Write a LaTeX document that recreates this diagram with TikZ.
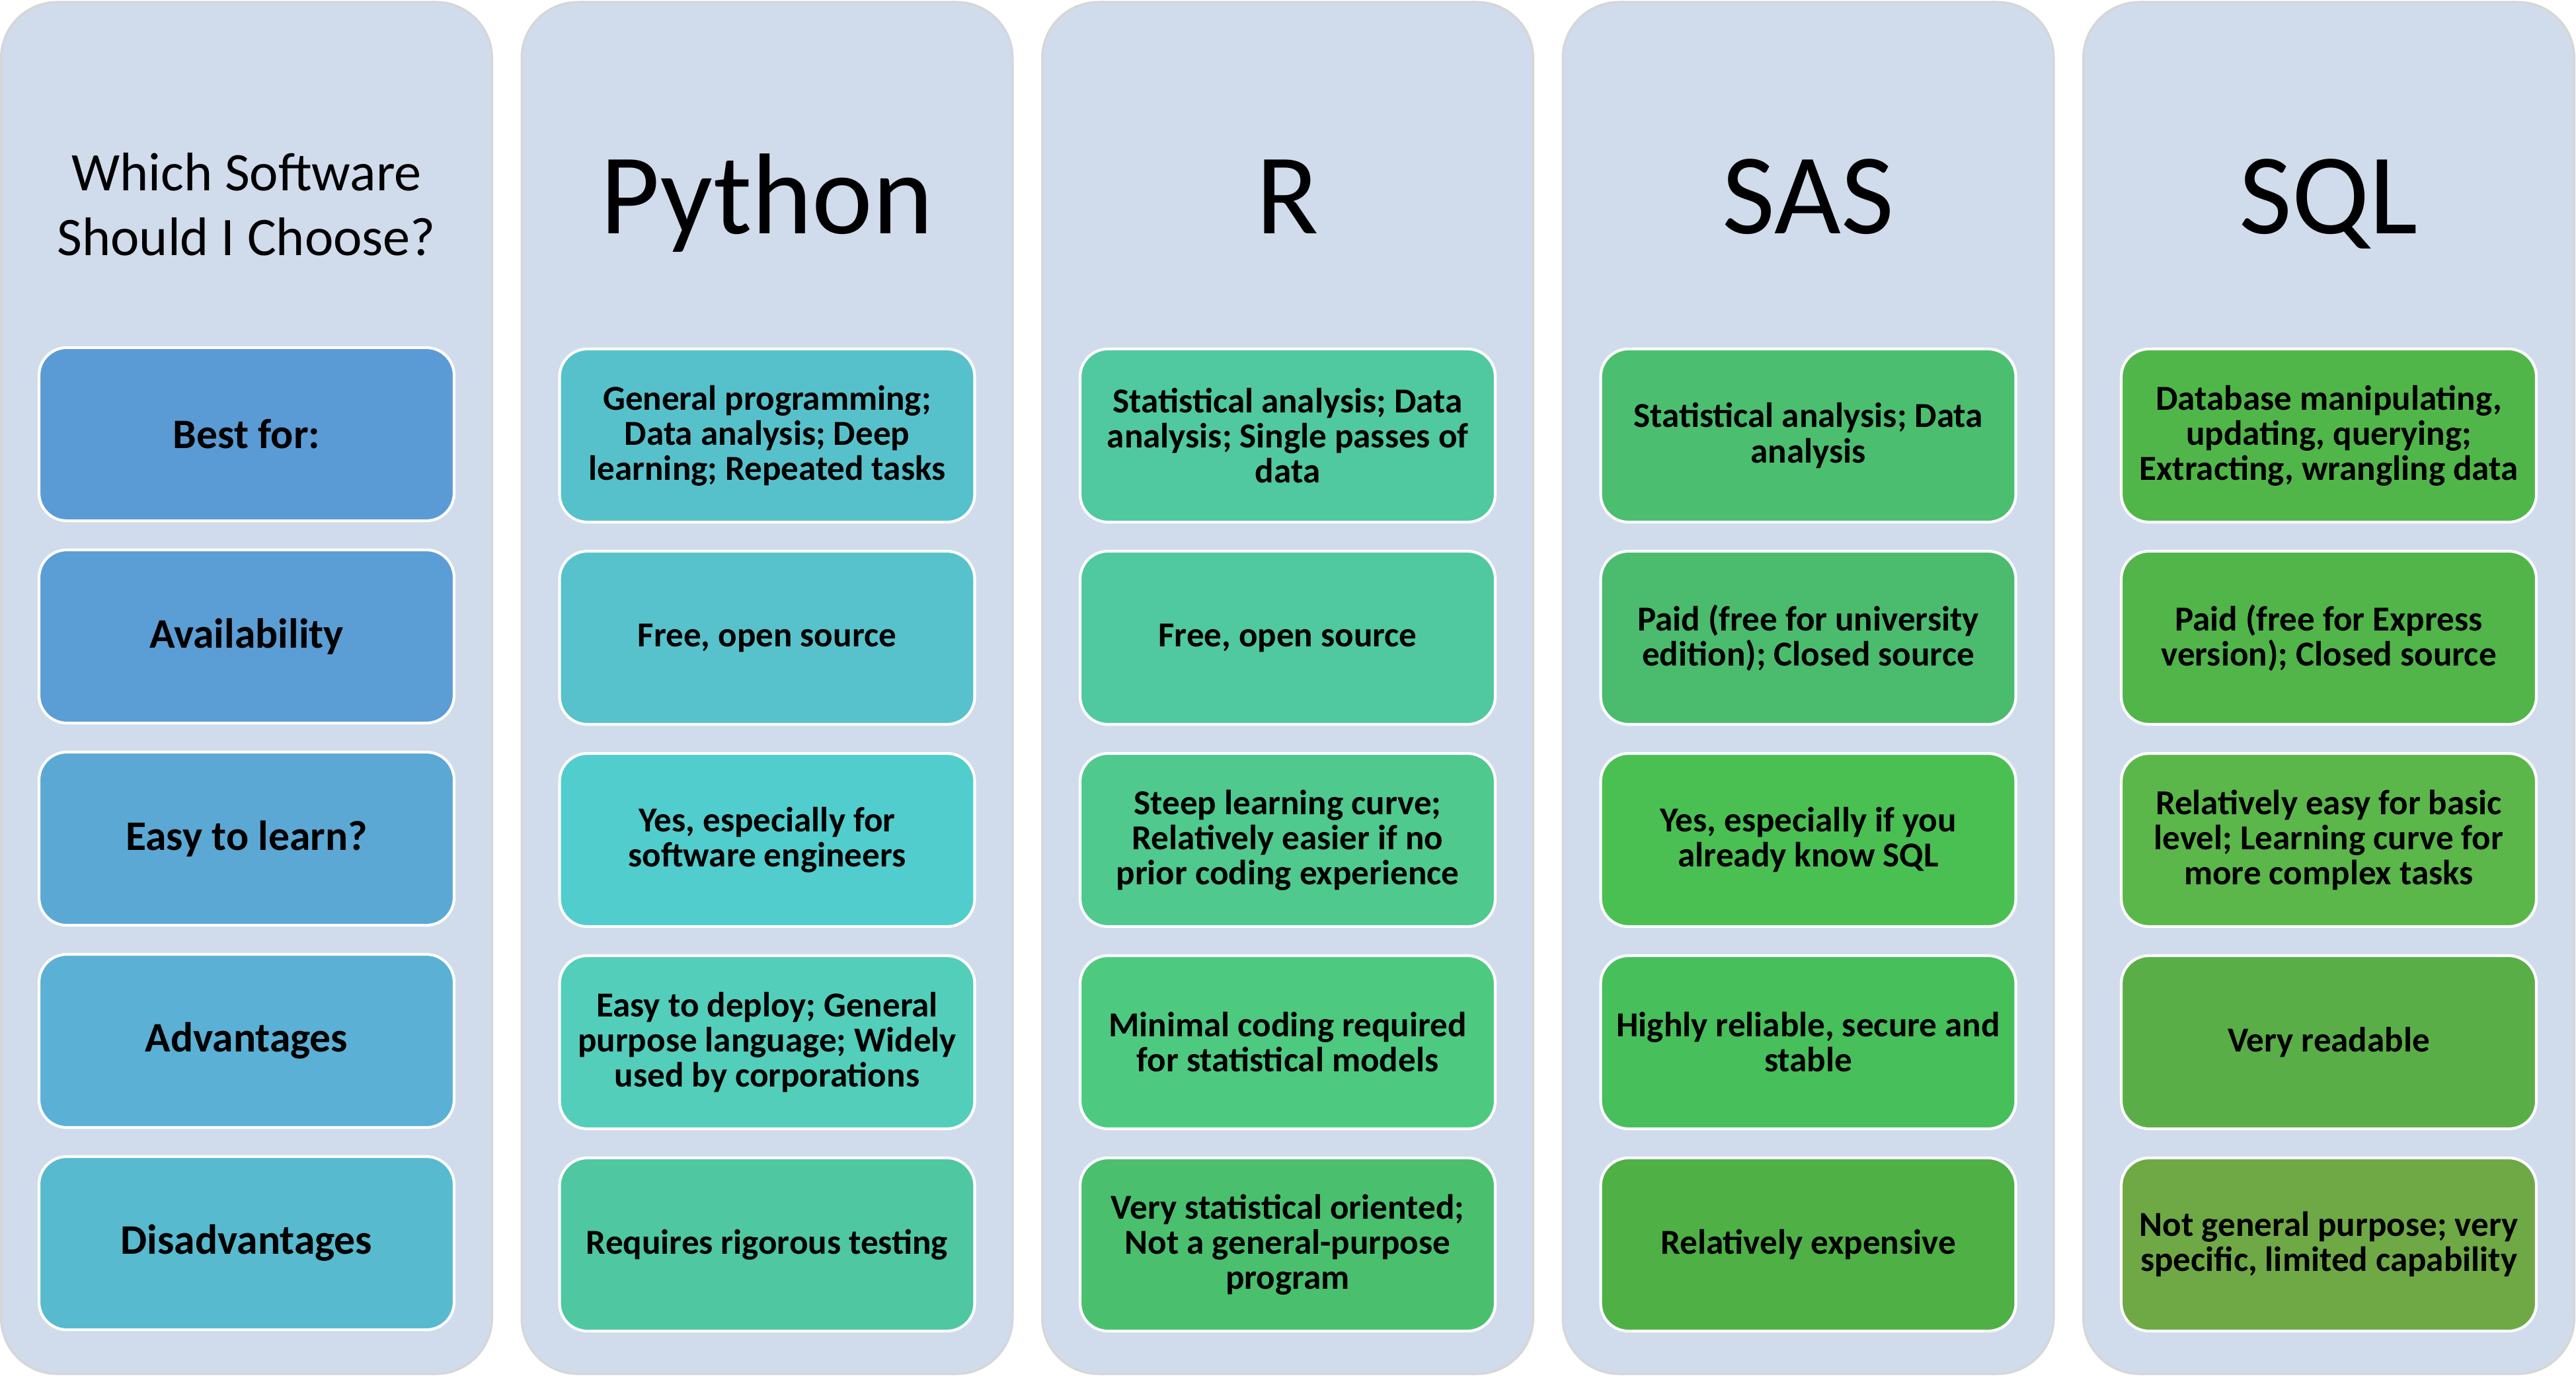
\documentclass[tikz,border=0pt]{standalone}
\usepackage{fontspec}
\setmainfont{Carlito}
\usepackage{tikz}
\usetikzlibrary{positioning}
\definecolor{fondocl}{RGB}{208, 219, 235}
\definecolor{bordecl}{RGB}{214, 214, 214}
% colores de las cajas (columna, fila)
\definecolor{c11}{RGB}{91, 155, 213}
\definecolor{c12}{RGB}{91, 157, 213}
\definecolor{c13}{RGB}{91, 168, 213}
\definecolor{c14}{RGB}{91, 176, 214}
\definecolor{c15}{RGB}{87, 186, 207}
\definecolor{c21}{RGB}{87, 193, 203}
\definecolor{c22}{RGB}{87, 194, 203}
\definecolor{c23}{RGB}{82, 205, 205}
\definecolor{c24}{RGB}{83, 206, 187}
\definecolor{c25}{RGB}{79, 199, 160}
\definecolor{c31}{RGB}{80, 200, 160}
\definecolor{c32}{RGB}{80, 200, 160}
\definecolor{c33}{RGB}{79, 201, 142}
\definecolor{c34}{RGB}{77, 202, 128}
\definecolor{c35}{RGB}{74, 192, 110}
\definecolor{c41}{RGB}{75, 191, 111}
\definecolor{c42}{RGB}{75, 188, 110}
\definecolor{c43}{RGB}{74, 192, 82}
\definecolor{c44}{RGB}{71, 191, 90}
\definecolor{c45}{RGB}{78, 176, 69}
\definecolor{c51}{RGB}{81, 182, 73}
\definecolor{c52}{RGB}{81, 181, 74}
\definecolor{c53}{RGB}{91, 183, 74}
\definecolor{c54}{RGB}{90, 174, 71}
\definecolor{c55}{RGB}{111, 169, 70}
\newcommand{\colx}[1]{3.73+7.875*(#1-1)}
\tikzset{
    columna/.style={draw=bordecl, line width=0.85pt, fill=fondocl, rounded corners=0.85cm,
        minimum width=7.43cm, minimum height=20.76cm, inner sep=0pt},
    caja/.style={draw=white, line width=1.2pt, rounded corners=0.42cm, minimum width=6.28cm,
        minimum height=2.62cm, inner sep=0pt, align=center, text=black,
        font=\fontsize{15.1}{15.1}\selectfont\bfseries},
    etiqueta/.style={caja, font=\fontsize{18.1}{18.5}\selectfont\bfseries},
    cabecera/.style={anchor=base, inner sep=0pt, font=\fontsize{49.5}{50}\selectfont},
    titulo/.style={inner sep=0pt, align=center, font=\fontsize{23.4}{27.9}\selectfont}
}

\begin{document}
\begin{tikzpicture}
    \useasboundingbox (0,0) rectangle (38.97,-20.82);
    % Columnas de fondo
    \foreach \i in {1,...,5} {
        \node[columna] (col\i) at ({\colx{\i}}, -10.41) {};
    }
    % Titulo y cabeceras
    \node[titulo] (titulo) at ({\colx{1}}, -3.09) {Which Software\\Should I Choose?};
    \foreach \i/\nom in {2/Python, 3/R, 4/SAS, 5/SQL} {
        \node[cabecera] (cab\i) at ({\colx{\i}}, -3.54) {\nom};
    }
    % Primera columna: criterios
    \foreach \j/\txt in {1/Best for:, 2/Availability, 3/Easy to learn?, 4/Advantages, 5/Disadvantages} {
        \node[etiqueta, fill=c1\j] (b1\j) at ({\colx{1}}, {-6.57-3.06*(\j-1)}) {\txt};
    }
    % Python
    \foreach \j/\txt in {1/{General programming;\\Data analysis; Deep\\learning; Repeated tasks},
        2/{Free, open source},
        3/{Yes, especially for\\software engineers},
        4/{Easy to deploy; General\\purpose language; Widely\\used by corporations},
        5/{Requires rigorous testing}} {
        \node[caja, fill=c2\j] (b2\j) at ({\colx{2}}, {-6.59-3.06*(\j-1)}) {\txt};
    }
    % R
    \foreach \j/\txt in {1/{Statistical analysis; Data\\analysis; Single passes of\\data},
        2/{Free, open source},
        3/{Steep learning curve;\\Relatively easier if no\\prior coding experience},
        4/{Minimal coding required\\for statistical models},
        5/{Very statistical oriented;\\Not a general-purpose\\program}} {
        \node[caja, fill=c3\j] (b3\j) at ({\colx{3}}, {-6.59-3.06*(\j-1)}) {\txt};
    }
    % SAS
    \foreach \j/\txt in {1/{Statistical analysis; Data\\analysis},
        2/{Paid (free for university\\edition); Closed source},
        3/{Yes, especially if you\\already know SQL},
        4/{Highly reliable, secure and\\stable},
        5/{Relatively expensive}} {
        \node[caja, fill=c4\j] (b4\j) at ({\colx{4}}, {-6.59-3.06*(\j-1)}) {\txt};
    }
    % SQL
    \foreach \j/\txt in {1/{Database manipulating,\\updating, querying;\\Extracting, wrangling data},
        2/{Paid (free for Express\\version); Closed source},
        3/{Relatively easy for basic\\level; Learning curve for\\more complex tasks},
        4/{Very readable},
        5/{Not general purpose; very\\specific, limited capability}} {
        \node[caja, fill=c5\j] (b5\j) at ({\colx{5}}, {-6.59-3.06*(\j-1)}) {\txt};
    }
\end{tikzpicture}
\end{document}
